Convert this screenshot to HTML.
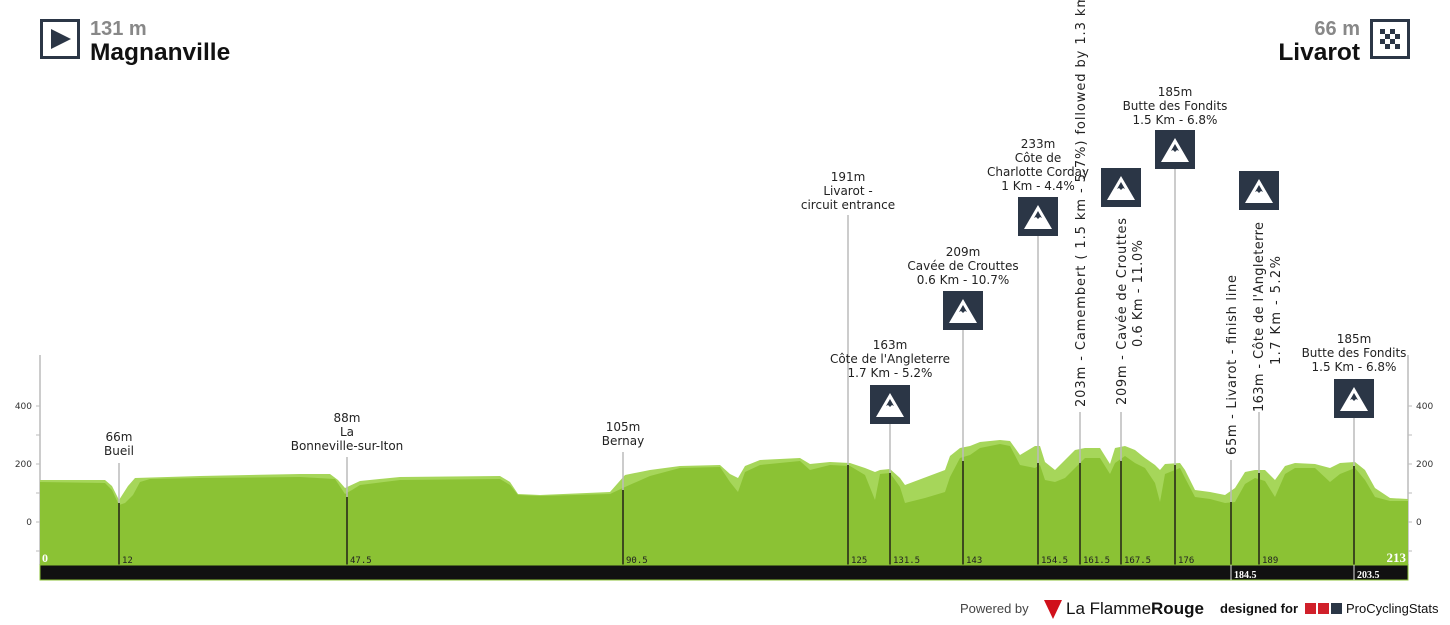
<!DOCTYPE html>
<html><head><meta charset="utf-8"><style>
html,body{margin:0;padding:0;background:#fff;width:1450px;height:625px;overflow:hidden}
svg{display:block;font-family:"DejaVu Sans","Liberation Sans",sans-serif}
</style></head><body>
<svg width="1450" height="625" viewBox="0 0 1450 625" xmlns="http://www.w3.org/2000/svg">
<defs>
<g id="ic"><rect x="0" y="0" width="40" height="39" fill="#2b3646"/><polygon points="20,8 34,32 6,32" fill="#fff"/><polygon points="20,14 24,21 22,20 20,22 18,20 16,21" fill="#2b3646"/></g>
</defs>
<!-- header -->
<rect x="41.5" y="20.5" width="37" height="37" fill="none" stroke="#2b3646" stroke-width="3"/>
<polygon points="51,29 71,39 51,49" fill="#2b3646"/>
<text x="90" y="35" font-family="Liberation Sans,sans-serif" font-weight="bold" font-size="20" fill="#888">131 m</text>
<text x="90" y="60" font-family="Liberation Sans,sans-serif" font-weight="bold" font-size="24.5" fill="#111">Magnanville</text>
<text x="1360" y="35" text-anchor="end" font-family="Liberation Sans,sans-serif" font-weight="bold" font-size="20" fill="#888">66 m</text>
<text x="1360" y="60" text-anchor="end" font-family="Liberation Sans,sans-serif" font-weight="bold" font-size="24.5" fill="#111">Livarot</text>
<rect x="1371.5" y="20.5" width="37" height="37" fill="none" stroke="#2b3646" stroke-width="3"/>
<g fill="#2b3646"><rect x="1380" y="29" width="5" height="5"/><rect x="1390" y="29" width="5" height="5"/><rect x="1385" y="34" width="5" height="5"/><rect x="1395" y="34" width="5" height="5"/><rect x="1380" y="39" width="5" height="5"/><rect x="1390" y="39" width="5" height="5"/><rect x="1385" y="44" width="5" height="5"/><rect x="1395" y="44" width="5" height="5"/></g>
<!-- axes -->
<g stroke="#bbb" stroke-width="1.5"><line x1="40" y1="355" x2="40" y2="565"/><line x1="1408" y1="355" x2="1408" y2="565"/></g>
<g stroke="#bbb"><line x1="36" y1="406" x2="40" y2="406"/><line x1="36" y1="435" x2="40" y2="435"/><line x1="36" y1="464" x2="40" y2="464"/><line x1="36" y1="493" x2="40" y2="493"/><line x1="36" y1="522" x2="40" y2="522"/><line x1="36" y1="551" x2="40" y2="551"/>
<line x1="1408" y1="406" x2="1412" y2="406"/><line x1="1408" y1="435" x2="1412" y2="435"/><line x1="1408" y1="464" x2="1412" y2="464"/><line x1="1408" y1="493" x2="1412" y2="493"/><line x1="1408" y1="522" x2="1412" y2="522"/><line x1="1408" y1="551" x2="1412" y2="551"/></g>
<g font-size="9" fill="#333"><text x="32" y="409" text-anchor="end">400</text><text x="32" y="467" text-anchor="end">200</text><text x="32" y="525" text-anchor="end">0</text>
<text x="1416" y="409">400</text><text x="1416" y="467">200</text><text x="1416" y="525">0</text></g>
<!-- profile light -->
<polygon fill="#a6d65a" points="40,480 105,480 112,486 119,500 128,486 135,478 200,476 300,474 330,474 338,480 345,488 360,481 400,477 500,476 510,482 518,494 540,495 610,492 625,475 650,470 680,466 720,465 730,474 738,478 745,466 760,460 800,458 810,464 830,462 850,463 865,468 875,472 880,470 890,469 900,478 905,485 945,470 950,456 960,448 970,446 980,442 1000,440 1010,441 1020,455 1035,446 1040,446 1045,462 1055,470 1065,460 1075,450 1085,448 1100,448 1110,464 1115,448 1125,446 1135,450 1145,458 1155,465 1160,470 1165,464 1180,463 1185,470 1195,490 1210,492 1225,495 1235,488 1245,472 1255,470 1265,470 1275,480 1285,466 1295,463 1315,464 1330,468 1340,463 1355,462 1365,470 1375,488 1390,498 1408,499 1408,565 40,565"/>
<!-- profile dark -->
<polygon fill="#8bc234" points="40,482 105,483 112,490 119,505 125,503 133,495 140,482 150,479 200,478 300,477 335,479 345,494 352,490 360,485 400,480 500,479 510,485 518,495 540,496 610,494 625,487 650,476 680,468 720,467 730,482 738,492 745,472 760,465 800,461 810,470 830,465 850,466 865,475 875,500 880,474 890,473 900,487 905,503 925,498 945,492 950,477 960,458 970,455 980,448 1000,444 1010,446 1020,465 1035,468 1040,465 1045,480 1055,482 1065,478 1075,468 1085,458 1100,458 1110,474 1115,463 1125,456 1135,463 1145,468 1155,483 1160,502 1165,474 1180,468 1185,478 1195,497 1210,499 1225,503 1235,502 1245,484 1255,478 1265,481 1275,497 1285,474 1295,468 1315,468 1330,482 1340,474 1355,468 1365,480 1375,497 1390,501 1408,501 1408,565 40,565"/>
<!-- marker lines -->
<g stroke="#bbb" stroke-width="1.5">
<line x1="119" y1="463" x2="119" y2="503"/><line x1="347" y1="457" x2="347" y2="497"/><line x1="623" y1="452" x2="623" y2="490"/>
<line x1="848" y1="215" x2="848" y2="465"/><line x1="890" y1="424" x2="890" y2="473"/><line x1="963" y1="330" x2="963" y2="461"/>
<line x1="1038" y1="236" x2="1038" y2="463"/><line x1="1080" y1="412" x2="1080" y2="463"/><line x1="1121" y1="412" x2="1121" y2="461"/>
<line x1="1175" y1="169" x2="1175" y2="465"/><line x1="1231" y1="460" x2="1231" y2="502"/><line x1="1259" y1="412" x2="1259" y2="473"/><line x1="1354" y1="418" x2="1354" y2="466"/></g>
<g stroke="#3d4a1e" stroke-width="2">
<line x1="119" y1="503" x2="119" y2="565"/><line x1="347" y1="497" x2="347" y2="565"/><line x1="623" y1="490" x2="623" y2="565"/>
<line x1="848" y1="465" x2="848" y2="565"/><line x1="890" y1="473" x2="890" y2="565"/><line x1="963" y1="461" x2="963" y2="565"/>
<line x1="1038" y1="463" x2="1038" y2="565"/><line x1="1080" y1="463" x2="1080" y2="565"/><line x1="1121" y1="461" x2="1121" y2="565"/>
<line x1="1175" y1="465" x2="1175" y2="565"/><line x1="1231" y1="502" x2="1231" y2="565"/><line x1="1259" y1="473" x2="1259" y2="565"/><line x1="1354" y1="466" x2="1354" y2="565"/></g>
<!-- bar -->
<rect x="40" y="565" width="1368" height="15" fill="#111" stroke="#8bc234" stroke-width="1"/>
<g stroke="#ddd" stroke-width="1"><line x1="1231" y1="565" x2="1231" y2="580"/><line x1="1354" y1="565" x2="1354" y2="580"/></g>
<g font-family="DejaVu Sans Mono,monospace" font-size="9" fill="#222">
<text x="122" y="563">12</text><text x="350" y="563">47.5</text><text x="626" y="563">90.5</text><text x="851" y="563">125</text><text x="893" y="563">131.5</text><text x="966" y="563">143</text><text x="1041" y="563">154.5</text><text x="1083" y="563">161.5</text><text x="1124" y="563">167.5</text><text x="1178" y="563">176</text><text x="1262" y="563">189</text></g>
<g font-family="Liberation Serif,serif" font-weight="bold" fill="#fff"><text x="42" y="562" font-size="12">0</text><text x="1406" y="562" font-size="13" text-anchor="end">213</text>
<text x="1234" y="578" font-size="10">184.5</text><text x="1357" y="578" font-size="10">203.5</text></g>
<!-- icons -->
<use href="#ic" x="870" y="385"/><use href="#ic" x="943" y="291"/><use href="#ic" x="1018" y="197"/><use href="#ic" x="1101" y="168"/><use href="#ic" x="1155" y="130"/><use href="#ic" x="1239" y="171"/><use href="#ic" x="1334" y="379"/>
<!-- labels -->
<g font-size="12" fill="#222" text-anchor="middle">
<text x="119" y="441">66m</text><text x="119" y="455">Bueil</text>
<text x="347" y="422">88m</text><text x="347" y="436">La</text><text x="347" y="450">Bonneville-sur-Iton</text>
<text x="623" y="431">105m</text><text x="623" y="445">Bernay</text>
<text x="848" y="181">191m</text><text x="848" y="195">Livarot -</text><text x="848" y="209">circuit entrance</text>
<text x="890" y="349">163m</text><text x="890" y="363">Côte de l'Angleterre</text><text x="890" y="377">1.7 Km - 5.2%</text>
<text x="963" y="256">209m</text><text x="963" y="270">Cavée de Crouttes</text><text x="963" y="284">0.6 Km - 10.7%</text>
<text x="1038" y="148">233m</text><text x="1038" y="162">Côte de</text><text x="1038" y="176">Charlotte Corday</text><text x="1038" y="190">1 Km - 4.4%</text>
<text x="1175" y="96">185m</text><text x="1175" y="110">Butte des Fondits</text><text x="1175" y="124">1.5 Km - 6.8%</text>
<text x="1354" y="343">185m</text><text x="1354" y="357">Butte des Fondits</text><text x="1354" y="371">1.5 Km - 6.8%</text>
</g>
<g font-size="13" fill="#222">
<text transform="translate(1085,407) rotate(-90)" textLength="412" lengthAdjust="spacing">203m - Camembert ( 1.5 km - 5.7%) followed by 1.3 km</text>
<text transform="translate(1126,405) rotate(-90)" textLength="187" lengthAdjust="spacing">209m - Cavée de Crouttes</text>
<text transform="translate(1142,347) rotate(-90)" textLength="107" lengthAdjust="spacing">0.6 Km - 11.0%</text>
<text transform="translate(1236,455) rotate(-90)" textLength="180" lengthAdjust="spacing">65m - Livarot - finish line</text>
<text transform="translate(1263,412) rotate(-90)" textLength="190" lengthAdjust="spacing">163m - Côte de l'Angleterre</text>
<text transform="translate(1280,365) rotate(-90)" textLength="109" lengthAdjust="spacing">1.7 Km - 5.2%</text>
</g>
<!-- footer -->
<text x="960" y="613" font-size="13" fill="#444" font-family="Liberation Sans,sans-serif">Powered by</text>
<polygon points="1044,600 1062,600 1053,619" fill="#d0101a"/>
<text x="1066" y="614" font-size="17" fill="#111" font-family="Liberation Sans,sans-serif">La Flamme<tspan font-weight="bold">Rouge</tspan></text>
<text x="1220" y="613" font-size="13" fill="#111" font-weight="bold" font-family="Liberation Sans,sans-serif">designed for</text>
<rect x="1305" y="603" width="11" height="11" fill="#d0202a"/><rect x="1318" y="603" width="11" height="11" fill="#d0202a"/><rect x="1331" y="603" width="11" height="11" fill="#2b3646"/>
<text x="1346" y="613" font-size="13" fill="#111" font-family="Liberation Sans,sans-serif">ProCyclingStats</text>
</svg>
</body></html>
